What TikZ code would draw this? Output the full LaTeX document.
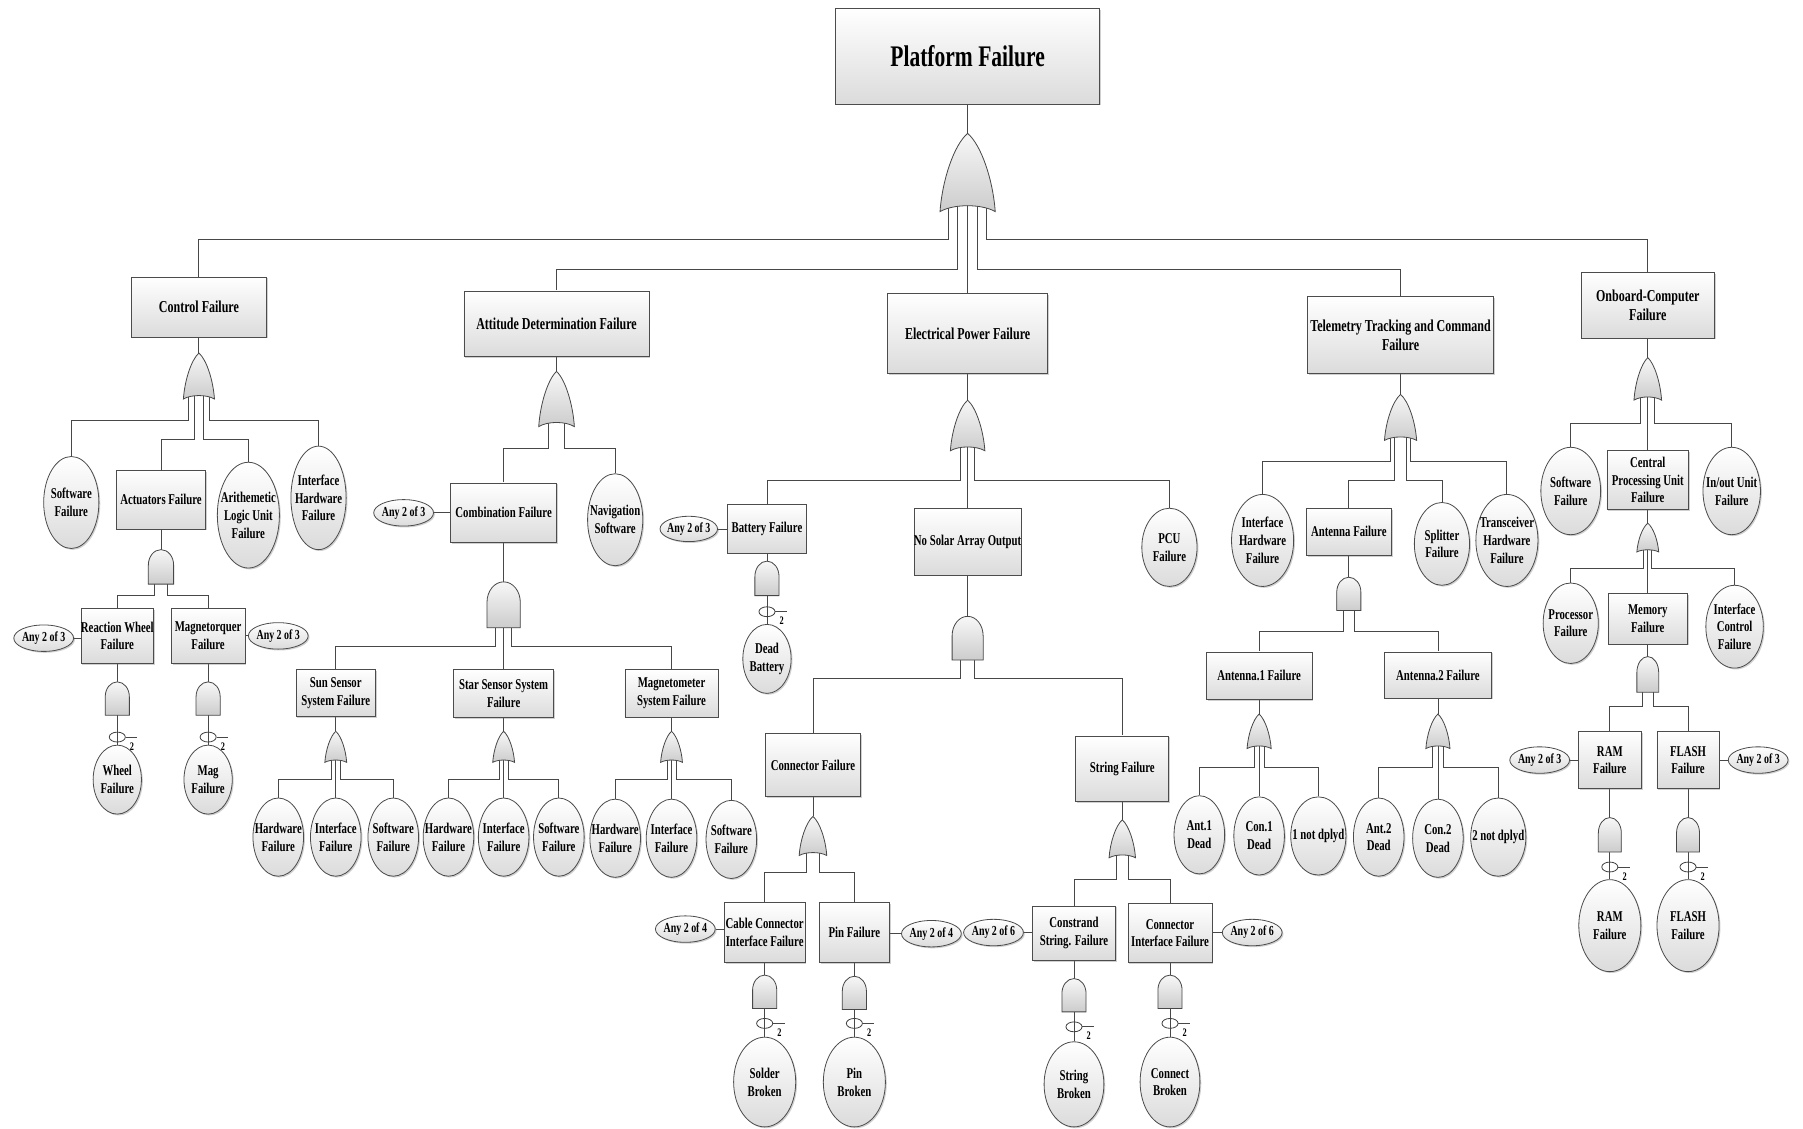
\documentclass[tikz,border=0pt]{standalone}
\usepackage{fontspec}
\newfontfamily\tf[FakeStretch=0.72]{Liberation Serif}
\usetikzlibrary{shapes.geometric,shadows}
\pgfdeclarelayer{bg}
\pgfsetlayers{bg,main}
\tikzset{
  conn/.style={draw=black!72, line width=0.75pt},
  shd/.style={drop shadow={shadow xshift=1.2pt,shadow yshift=-1.2pt,opacity=0.3,fill=black!60}},
  boxst/.style={rectangle, draw=black!70, line width=0.7pt, top color=white, bottom color=black!14, inner sep=0pt, shd},
  lfst/.style={ellipse, draw=black!70, line width=0.7pt, top color=white, bottom color=black!14, inner sep=0pt, shd},
  vtst/.style={ellipse, draw=black!70, line width=0.7pt, top color=white, bottom color=black!14, inner sep=0pt, minimum width=52, minimum height=23, shd},
  vmst/.style={ellipse, draw=black!75, line width=0.7pt, inner sep=0pt, minimum width=14, minimum height=8.6},
  gatest/.style={draw=black!72, line width=0.7pt, top color=black!3, bottom color=black!20},
  txt/.style={inner sep=0pt, align=center, text=black},
  fT/.style={font=\tf\bfseries\fontsize{26}{30}\selectfont},
  fA/.style={font=\tf\bfseries\fontsize{14.5}{17}\selectfont},
  fB/.style={font=\tf\bfseries\fontsize{13}{15.5}\selectfont},
  fC/.style={font=\tf\bfseries\fontsize{12}{14}\selectfont},
  twost/.style={inner sep=0pt, font=\tf\bfseries\fontsize{10}{11}\selectfont},
}
% name cx cy w h fontstyle text
\newcommand{\mkbox}[7]{\node[boxst, minimum width=#4, minimum height=#5] (#1) at (#2,#3) {};
  \node[txt,#6] at (#1) {#7};}
% name cx cy rx ry text
\newcommand{\mkleaf}[6]{\node[lfst, minimum width={2*#4}, minimum height={2*#5}] (#1) at (#2,#3) {};
  \node[txt,fB] at (#1) {#6};}
\newcommand{\mkvote}[4]{\node[vtst] (#1) at (#2,#3) {};
  \node[txt,fC] at (#1) {#4};}
\newcommand{\mkmark}[3]{\node[vmst] (#1) at (#2,#3) {};
  \draw[conn] (#1.east) -- ++(10,0);
  \node[twost] at ([xshift=5.5pt,yshift=-8pt]#1.east) {2};}
% name cx ytop w h
\newcommand{\mkor}[5]{\coordinate (#1) at (#2,#3);
  \coordinate (#1-o) at ({#2},{#3+0.85*#5});
  \draw[gatest] (#2,#3) .. controls ({#2+0.25*#4},{#3+0.15*#5}) and ({#2+0.46*#4},{#3+0.6*#5}) .. ({#2+0.5*#4},{#3+#5})
   .. controls ({#2+0.25*#4},{#3+0.9*#5}) and ({#2-0.25*#4},{#3+0.9*#5}) .. ({#2-0.5*#4},{#3+#5})
   .. controls ({#2-0.46*#4},{#3+0.6*#5}) and ({#2-0.25*#4},{#3+0.15*#5}) .. cycle;}
\newcommand{\mkand}[5]{\coordinate (#1) at (#2,#3);
  \coordinate (#1-o) at ({#2},{#3+0.9*#5});
  \draw[gatest] ({#2-0.5*#4},{#3+#5}) -- ({#2-0.5*#4},{#3+0.45*#5})
   .. controls ({#2-0.5*#4},{#3+0.2*#5}) and ({#2-0.28*#4},{#3}) .. (#2,#3)
   .. controls ({#2+0.28*#4},{#3}) and ({#2+0.5*#4},{#3+0.2*#5}) .. ({#2+0.5*#4},{#3+0.45*#5})
   -- ({#2+0.5*#4},{#3+#5}) -- cycle;}
% gate dx level child
\newcommand{\mkleg}[4]{\coordinate (lv) at (0,#3);
  \path ([xshift=#2pt]#1-o) coordinate (ls);
  \draw[conn] (ls) -- (ls |- lv) -| (#4.north);}
\begin{document}
\begin{tikzpicture}[x=1pt,y=-1pt]
\begin{pgfonlayer}{bg}
\fill[white] (0,0) rectangle (1568,981);
\end{pgfonlayer}
\useasboundingbox (0,0) rectangle (1568,981);

% ---------- top ----------
\mkbox{top}{841.5}{49}{230}{83}{fT}{Platform Failure}
\mkor{gTop}{841.5}{116}{48}{68}
\mkbox{ctl}{173}{267}{118}{52}{fA}{Control Failure}
\mkbox{att}{484}{281.5}{161}{57}{fA}{Attitude Determination Failure}
\mkbox{eps}{841.5}{290}{139}{70}{fA}{Electrical Power Failure}
\mkbox{ttc}{1218}{291.5}{162}{67}{fA}{Telemetry Tracking and Command\\Failure}
\mkbox{obc}{1433}{265.5}{116}{57}{fA}{Onboard-Computer\\Failure}

% ---------- control ----------
\mkor{gC}{173}{307}{27}{40}
\mkleaf{sw1}{62}{437}{24}{40}{Software\\Failure}
\mkbox{act}{140}{434.5}{78}{51}{fB}{Actuators Failure}
\mkleaf{alu}{216}{448}{27}{46}{Arithemetic\\Logic Unit\\Failure}
\mkleaf{ihw1}{277}{433}{24}{45}{Interface\\Hardware\\Failure}
\mkand{gAct}{140}{478}{22}{30}
\mkbox{rw}{102}{553}{63}{48}{fB}{Reaction Wheel\\Failure}
\mkbox{mt}{181}{553}{64}{48}{fB}{Magnetorquer\\Failure}
\mkvote{v1}{38}{555}{Any 2 of 3}
\mkvote{v2}{242}{553}{Any 2 of 3}
\mkand{gRW}{102}{593}{21}{29}
\mkand{gMT}{181}{593}{21}{29}
\mkleaf{wf}{102}{678}{21}{30}{Wheel\\Failure}
\mkleaf{mg}{181}{678}{21}{30}{Mag\\Failure}
\mkmark{m1}{102}{641}
\mkmark{m2}{181}{641}

% ---------- attitude ----------
\mkor{gA}{484}{323}{31}{48}
\mkbox{comb}{438}{446}{92}{52}{fB}{Combination Failure}
\mkvote{v3}{351}{446}{Any 2 of 3}
\mkleaf{nav}{535}{452}{24}{40}{Navigation\\Software}
\mkand{gCo}{438}{506}{29}{40}
\mkbox{sun}{292}{602.5}{69}{41}{fB}{Sun Sensor\\System Failure}
\mkbox{star}{438}{603}{87}{42}{fB}{Star Sensor System\\Failure}
\mkbox{magn}{584}{603}{81}{41}{fB}{Magnetometer\\System Failure}
\mkor{gSu}{292}{636}{19}{27}
\mkor{gSt}{438}{636}{19}{27}
\mkor{gMa}{584}{636}{19}{27}
\mkleaf{hw1}{242}{728}{22}{34}{Hardware\\Failure}
\mkleaf{if1}{292}{728}{22}{34}{Interface\\Failure}
\mkleaf{sf1}{342}{728}{22}{34}{Software\\Failure}
\mkleaf{hw2}{390}{728}{22}{34}{Hardware\\Failure}
\mkleaf{if2}{438}{728}{22}{34}{Interface\\Failure}
\mkleaf{sf2}{486}{728}{22}{34}{Software\\Failure}
\mkleaf{hw3}{535}{729}{22}{34}{Hardware\\Failure}
\mkleaf{if3}{584}{729}{22}{34}{Interface\\Failure}
\mkleaf{sf3}{636}{730}{22}{34}{Software\\Failure}

% ---------- electrical power ----------
\mkor{gE}{841.5}{348}{30}{44}
\mkbox{bat}{667}{460}{68}{42}{fB}{Battery Failure}
\node[vtst, minimum width=50, minimum height=22] (v4) at (599,460) {};
\node[txt,fC] at (v4) {Any 2 of 3};
\mkbox{nsa}{841.5}{471}{93}{58}{fB}{No Solar Array Output}
\mkleaf{pcu}{1017}{476}{24}{34}{PCU\\Failure}
\mkand{gBa}{667}{488}{21}{30}
\mkleaf{db}{667}{573}{21}{30}{Dead\\Battery}
\mkmark{m3}{667}{532}
\mkand{gN}{841.5}{536}{27}{38}
\mkbox{conf}{707}{665.5}{83}{55}{fB}{Connector Failure}
\mkbox{strf}{976}{668.5}{81}{57}{fB}{String Failure}
\mkor{gCf}{707}{710}{24}{34}
\mkor{gSf}{976}{713}{23}{33}
\mkbox{cab}{665}{811}{70}{52}{fB}{Cable Connector\\Interface Failure}
\mkbox{pin}{743}{811}{61}{52}{fB}{Pin Failure}
\mkvote{v5}{596}{808}{Any 2 of 4}
\mkvote{v6}{810}{812}{Any 2 of 4}
\mkvote{v7}{864}{811}{Any 2 of 6}
\mkbox{cons}{934}{811.5}{72}{47}{fB}{Constrand\\String. Failure}
\mkbox{cif}{1017.5}{811.5}{73}{51}{fB}{Connector\\Interface Failure}
\mkvote{v8}{1089}{811}{Any 2 of 6}
\mkand{gCa}{665}{848}{21}{29}
\mkand{gPi}{743}{849}{21}{29}
\mkand{gCs}{934}{851}{21}{29}
\mkand{gCi}{1017.5}{848}{21}{29}
\mkleaf{sb}{665}{941}{27}{39}{Solder\\Broken}
\mkleaf{pb}{743}{941}{27}{39}{Pin\\Broken}
\mkleaf{stb}{934}{943}{26}{37}{String\\Broken}
\mkleaf{cb}{1017.5}{941}{26}{39}{Connect\\Broken}
\mkmark{m4}{665}{890}
\mkmark{m5}{743}{890}
\mkmark{m6}{934}{893}
\mkmark{m7}{1017.5}{890}

% ---------- TT&C ----------
\mkor{gT}{1218}{343}{28}{40}
\mkleaf{ihw2}{1098}{470}{27}{40}{Interface\\Hardware\\Failure}
\mkbox{ant}{1173}{462.5}{74}{41}{fB}{Antenna Failure}
\mkleaf{spl}{1254}{473}{24}{36}{Splitter\\Failure}
\mkleaf{trx}{1310.5}{470}{27}{40}{Transceiver\\Hardware\\Failure}
\mkand{gAn}{1173}{502}{21}{29}
\mkbox{an1}{1095}{587.5}{92}{41}{fB}{Antenna.1 Failure}
\mkbox{an2}{1250.5}{587}{93}{40}{fB}{Antenna.2 Failure}
\mkor{gA1}{1095}{621}{21}{30}
\mkor{gA2}{1250.5}{621}{21}{30}
\mkleaf{a1d}{1043}{726}{22}{34}{Ant.1\\Dead}
\mkleaf{c1d}{1095}{727}{22}{34}{Con.1\\Dead}
\mkleaf{n1}{1146.5}{727}{24}{34}{1 not dplyd}
\mkleaf{a2d}{1199}{728}{22}{34}{Ant.2\\Dead}
\mkleaf{c2d}{1250.5}{729}{22}{34}{Con.2\\Dead}
\mkleaf{n2}{1303}{728}{24}{34}{2 not dplyd}

% ---------- OBC ----------
\mkor{gO}{1433}{311}{24}{37}
\mkleaf{sw2}{1366}{427}{26}{38}{Software\\Failure}
\mkbox{cpu}{1433}{417.5}{71}{51}{fB}{Central\\Processing Unit\\Failure}
\mkleaf{io}{1506}{427}{25}{38}{In/out Unit\\Failure}
\mkor{gCp}{1433}{455}{19}{25}
\mkleaf{proc}{1366}{542}{24}{35}{Processor\\Failure}
\mkbox{mem}{1433}{538}{69}{44}{fB}{Memory\\Failure}
\mkleaf{icf}{1508.5}{545}{25}{36}{Interface\\Control\\Failure}
\mkand{gMe}{1433}{571}{19}{31}
\mkbox{ram}{1400}{661}{55}{50}{fB}{RAM\\Failure}
\mkbox{fla}{1468}{661}{54}{50}{fB}{FLASH\\Failure}
\mkvote{v9}{1339}{661}{Any 2 of 3}
\mkvote{v10}{1529}{661}{Any 2 of 3}
\mkand{gRa}{1400}{711}{20}{30}
\mkand{gFl}{1468}{711}{20}{30}
\mkleaf{rl}{1400}{805}{27}{40}{RAM\\Failure}
\mkleaf{fl}{1468}{805}{27}{40}{FLASH\\Failure}
\mkmark{m8}{1400}{754}
\mkmark{m9}{1468}{754}

% ---------- connectors ----------
\begin{pgfonlayer}{bg}
\draw[conn] (top.south) -- (gTop);
\mkleg{gTop}{-17}{208}{ctl}
\mkleg{gTop}{-8.5}{234}{att}
\draw[conn] (gTop-o) -- (eps.north);
\mkleg{gTop}{8.5}{234}{ttc}
\mkleg{gTop}{16}{208}{obc}
% control
\draw[conn] (ctl.south) -- (gC);
\mkleg{gC}{-9.5}{366}{sw1}
\mkleg{gC}{-4}{382}{act}
\mkleg{gC}{4}{382}{alu}
\mkleg{gC}{9.5}{366}{ihw1}
\draw[conn] (act.south) -- (gAct);
\mkleg{gAct}{-5.5}{518}{rw}
\mkleg{gAct}{5.5}{518}{mt}
\draw[conn] (v1.east) -- (v1.east -| rw.west);
\draw[conn] (v2.west) -- (v2.west -| mt.east);
\draw[conn] (rw.south) -- (gRW);
\draw[conn] (mt.south) -- (gMT);
\draw[conn] (gRW-o) -- (wf.north);
\draw[conn] (gMT-o) -- (mg.north);
% attitude
\draw[conn] (att.south) -- (gA);
\mkleg{gA}{-7}{390}{comb}
\mkleg{gA}{7}{390}{nav}
\draw[conn] (v3.east) -- (v3.east -| comb.west);
\draw[conn] (comb.south) -- (gCo);
\mkleg{gCo}{-7}{562}{sun}
\draw[conn] (gCo-o) -- (star.north);
\mkleg{gCo}{7}{562}{magn}
\draw[conn] (sun.south) -- (gSu);
\draw[conn] (star.south) -- (gSt);
\draw[conn] (magn.south) -- (gMa);
\mkleg{gSu}{-4}{678}{hw1}
\draw[conn] (gSu-o) -- (if1.north);
\mkleg{gSu}{4}{678}{sf1}
\mkleg{gSt}{-4}{678}{hw2}
\draw[conn] (gSt-o) -- (if2.north);
\mkleg{gSt}{4}{678}{sf2}
\mkleg{gMa}{-4}{678}{hw3}
\draw[conn] (gMa-o) -- (if3.north);
\mkleg{gMa}{4}{678}{sf3}
% electrical power
\draw[conn] (eps.south) -- (gE);
\mkleg{gE}{-6}{418}{bat}
\draw[conn] (gE-o) -- (nsa.north);
\mkleg{gE}{6}{418}{pcu}
\draw[conn] (v4.east) -- (v4.east -| bat.west);
\draw[conn] (bat.south) -- (gBa);
\draw[conn] (gBa-o) -- (db.north);
\draw[conn] (nsa.south) -- (gN);
\mkleg{gN}{-6}{590}{conf}
\mkleg{gN}{6}{590}{strf}
\draw[conn] (conf.south) -- (gCf);
\mkleg{gCf}{-5.5}{759}{cab}
\mkleg{gCf}{5.5}{759}{pin}
\draw[conn] (strf.south) -- (gSf);
\mkleg{gSf}{-5.5}{765}{cons}
\mkleg{gSf}{5.5}{765}{cif}
\draw[conn] (v5.east) -- (v5.east -| cab.west);
\draw[conn] (v6.west) -- (v6.west -| pin.east);
\draw[conn] (v7.east) -- (v7.east -| cons.west);
\draw[conn] (v8.west) -- (v8.west -| cif.east);
\draw[conn] (cab.south) -- (gCa);
\draw[conn] (pin.south) -- (gPi);
\draw[conn] (cons.south) -- (gCs);
\draw[conn] (cif.south) -- (gCi);
\draw[conn] (gCa-o) -- (sb.north);
\draw[conn] (gPi-o) -- (pb.north);
\draw[conn] (gCs-o) -- (stb.north);
\draw[conn] (gCi-o) -- (cb.north);
% TT&C
\draw[conn] (ttc.south) -- (gT);
\mkleg{gT}{-9}{401}{ihw2}
\mkleg{gT}{-5}{418}{ant}
\mkleg{gT}{5}{418}{spl}
\mkleg{gT}{9}{401}{trx}
\draw[conn] (ant.south) -- (gAn);
\mkleg{gAn}{-5}{549}{an1}
\mkleg{gAn}{5}{549}{an2}
\draw[conn] (an1.south) -- (gA1);
\draw[conn] (an2.south) -- (gA2);
\mkleg{gA1}{-4.5}{667}{a1d}
\draw[conn] (gA1-o) -- (c1d.north);
\mkleg{gA1}{4.5}{667}{n1}
\mkleg{gA2}{-4.5}{667}{a2d}
\draw[conn] (gA2-o) -- (c2d.north);
\mkleg{gA2}{4.5}{667}{n2}
% OBC
\draw[conn] (obc.south) -- (gO);
\mkleg{gO}{-6}{368}{sw2}
\draw[conn] (gO-o) -- (cpu.north);
\mkleg{gO}{6}{368}{io}
\draw[conn] (cpu.south) -- (gCp);
\mkleg{gCp}{-3.5}{494}{proc}
\draw[conn] (gCp-o) -- (mem.north);
\mkleg{gCp}{3.5}{494}{icf}
\draw[conn] (mem.south) -- (gMe);
\mkleg{gMe}{-5}{614}{ram}
\mkleg{gMe}{5}{614}{fla}
\draw[conn] (v9.east) -- (v9.east -| ram.west);
\draw[conn] (v10.west) -- (v10.west -| fla.east);
\draw[conn] (ram.south) -- (gRa);
\draw[conn] (fla.south) -- (gFl);
\draw[conn] (gRa-o) -- (rl.north);
\draw[conn] (gFl-o) -- (fl.north);
\end{pgfonlayer}
\end{tikzpicture}
\end{document}
